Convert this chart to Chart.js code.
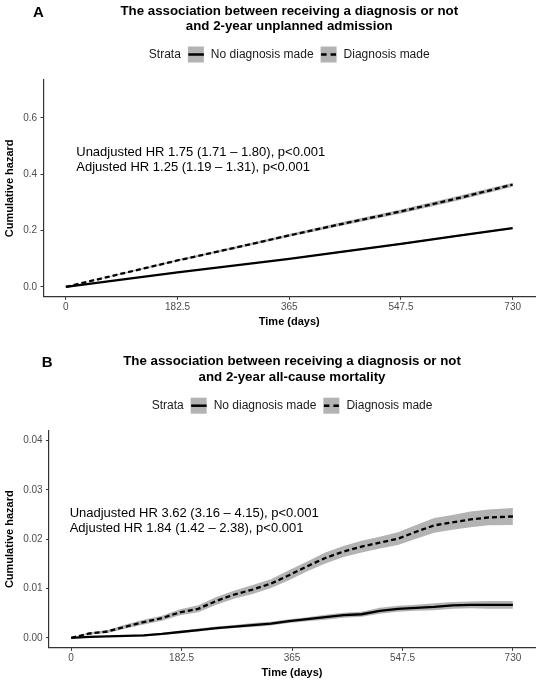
<!DOCTYPE html>
<html>
<head>
<meta charset="utf-8">
<script src="https://cdn.jsdelivr.net/npm/chart.js@4.4.0/dist/chart.umd.min.js"></script>
<style>
  body { margin: 0; background: #fff; }
  .panel { position: absolute; left: 0; width: 542px; }
  #panelA { top: 0; height: 350px; }
  #panelB { top: 350px; height: 330px; }
</style>
</head>
<body>
<div class="panel" id="panelA"><canvas id="chartA"></canvas></div>
<div class="panel" id="panelB"><canvas id="chartB"></canvas></div>
<script>
const FONT = "'Liberation Sans', Arial, Helvetica, sans-serif";
const BAND = "#b3b3b3";

const strata = ["No diagnosis made", "Diagnosis made"];
const xTicks = [0, 182.5, 365, 547.5, 730];

// Panel A: 2-year unplanned admission
const daysA = [0, 91, 182.5, 274, 365, 456, 547.5, 639, 730];
const noDxA = [0, 0.026, 0.052, 0.076, 0.100, 0.126, 0.153, 0.181, 0.209];
const noDxLowA = [0, 0.025, 0.050, 0.074, 0.098, 0.123, 0.150, 0.178, 0.206];
const noDxHighA = [0, 0.027, 0.054, 0.078, 0.102, 0.129, 0.156, 0.184, 0.212];
const dxA = [0, 0.047, 0.094, 0.138, 0.183, 0.226, 0.268, 0.314, 0.363];
const dxLowA = [0, 0.045, 0.091, 0.134, 0.178, 0.220, 0.261, 0.306, 0.356];
const dxHighA = [0, 0.049, 0.097, 0.142, 0.188, 0.232, 0.275, 0.322, 0.370];
const yTicksA = [0, 0.2, 0.4, 0.6];
const yLabelsA = ["0.0", "0.2", "0.4", "0.6"];
const titleA = ["The association between receiving a diagnosis or not", "and 2-year unplanned admission"];
const noteA = ["Unadjusted HR 1.75 (1.71 \u2013 1.80), p<0.001", "Adjusted HR 1.25 (1.19 \u2013 1.31), p<0.001"];

// Panel B: 2-year all-cause mortality
const daysB = [0, 30, 60, 90, 120, 150, 180, 210, 240, 270, 300, 330, 360, 390, 420, 450, 480, 510, 540, 570, 600, 630, 660, 690, 730];
const noDxB = [0, 0.0002, 0.0003, 0.0004, 0.0005, 0.0008, 0.0012, 0.0016, 0.0020, 0.0023, 0.0026, 0.0029, 0.0034, 0.0038, 0.0042, 0.0046, 0.0048, 0.0055, 0.0059, 0.0061, 0.0063, 0.0066, 0.0067, 0.0067, 0.0067];
const noDxLowB = [0, 0.0001, 0.0002, 0.0003, 0.0003, 0.0006, 0.0010, 0.0013, 0.0017, 0.0020, 0.0022, 0.0025, 0.0030, 0.0034, 0.0037, 0.0041, 0.0043, 0.0049, 0.0053, 0.0055, 0.0056, 0.0059, 0.0060, 0.0059, 0.0059];
const noDxHighB = [0, 0.0003, 0.0004, 0.0005, 0.0007, 0.0010, 0.0014, 0.0019, 0.0023, 0.0026, 0.0030, 0.0033, 0.0038, 0.0042, 0.0047, 0.0051, 0.0053, 0.0061, 0.0065, 0.0067, 0.0070, 0.0073, 0.0074, 0.0075, 0.0075];
const dxB = [0, 0.0009, 0.0013, 0.0023, 0.0032, 0.0040, 0.0052, 0.0059, 0.0075, 0.0088, 0.0098, 0.0110, 0.0127, 0.0145, 0.0162, 0.0175, 0.0185, 0.0193, 0.0201, 0.0215, 0.0228, 0.0234, 0.0240, 0.0244, 0.0246];
const dxLowB = [0, 0.0007, 0.0010, 0.0019, 0.0027, 0.0035, 0.0046, 0.0052, 0.0067, 0.0080, 0.0089, 0.0101, 0.0117, 0.0135, 0.0151, 0.0164, 0.0173, 0.0181, 0.0188, 0.0201, 0.0213, 0.0219, 0.0224, 0.0228, 0.0229];
const dxHighB = [0, 0.0011, 0.0016, 0.0027, 0.0037, 0.0045, 0.0058, 0.0066, 0.0083, 0.0096, 0.0107, 0.0119, 0.0137, 0.0155, 0.0173, 0.0186, 0.0197, 0.0205, 0.0214, 0.0229, 0.0243, 0.0249, 0.0256, 0.0260, 0.0263];
const yTicksB = [0, 0.01, 0.02, 0.03, 0.04];
const yLabelsB = ["0.00", "0.01", "0.02", "0.03", "0.04"];
const titleB = ["The association between receiving a diagnosis or not", "and 2-year all-cause mortality"];
const noteB = ["Unadjusted HR 3.62 (3.16 \u2013 4.15), p<0.001", "Adjusted HR 1.84 (1.42 \u2013 2.38), p<0.001"];

const lineDash = [[], [5, 3]];

function points(days, vals) {
  return days.map((d, i) => ({ x: d, y: vals[i] }));
}

// panel letter, HR annotation and the "Strata" legend row
const panelDecor = {
  id: "panelDecor",
  afterDraw(chart, args, opts) {
    const { ctx, chartArea, scales } = chart;
    ctx.save();
    ctx.fillStyle = "#000";
    ctx.textBaseline = "middle";
    ctx.textAlign = "left";

    ctx.font = "bold 15px " + FONT;
    ctx.fillText(opts.letter, opts.letterX, 13.3);

    ctx.font = "13px " + FONT;
    const nx = scales.x.getPixelForValue(opts.noteX);
    opts.note.forEach((line, i) => {
      ctx.fillText(line, nx, scales.y.getPixelForValue(opts.noteY[i]));
    });

    ctx.font = "12px " + FONT;
    ctx.fillStyle = "#1a1a1a";
    const box = 16, gap = 7;
    const head = ctx.measureText("Strata").width;
    const widths = strata.map(s => ctx.measureText(s).width);
    let total = head;
    widths.forEach(w => { total += gap + box + gap + w; });
    let x = (chartArea.left + chartArea.right) / 2 - total / 2;
    const y = opts.legendY;
    ctx.fillText("Strata", x, y);
    x += head + gap;
    strata.forEach((s, i) => {
      ctx.fillStyle = BAND;
      ctx.fillRect(x, y - box / 2, box, box);
      ctx.strokeStyle = "#000";
      ctx.lineWidth = 2.5;
      ctx.setLineDash(i === 1 ? [5.5, 4] : []);
      ctx.beginPath();
      ctx.moveTo(x + 0.5, y);
      ctx.lineTo(x + box, y);
      ctx.stroke();
      ctx.setLineDash([]);
      ctx.fillStyle = "#1a1a1a";
      ctx.fillText(s, x + box + gap, y);
      x += box + gap + widths[i] + gap;
    });
    ctx.restore();
  }
};

function makePanel(id, p) {
  const datasets = [
    { data: points(p.days, p.noDxLow), borderWidth: 0, pointRadius: 0, fill: false, order: 2 },
    { data: points(p.days, p.noDxHigh), borderWidth: 0, pointRadius: 0, fill: "-1", backgroundColor: BAND, order: 2 },
    { data: points(p.days, p.dxLow), borderWidth: 0, pointRadius: 0, fill: false, order: 2 },
    { data: points(p.days, p.dxHigh), borderWidth: 0, pointRadius: 0, fill: "-1", backgroundColor: BAND, order: 2 },
    { label: strata[0], data: points(p.days, p.noDx), borderColor: "#000", borderWidth: 2.3, borderDash: lineDash[0], pointRadius: 0, fill: false, order: 0 },
    { label: strata[1], data: points(p.days, p.dx), borderColor: "#000", borderWidth: 2.3, borderDash: lineDash[1], pointRadius: 0, fill: false, order: 0 }
  ];

  new Chart(id, {
    type: "line",
    data: { datasets: datasets },
    options: {
      responsive: true,
      maintainAspectRatio: false,
      animation: false,
      layout: { padding: { top: p.padTop, left: 2, right: 7, bottom: p.padBottom } },
      plugins: {
        legend: { display: false },
        tooltip: { enabled: false },
        title: {
          display: true,
          text: p.title,
          fullSize: false,
          color: "#000",
          font: { family: FONT, size: 13.3, weight: "bold", lineHeight: 1.18 },
          padding: { top: 0, bottom: 45.5 }
        },
        panelDecor: {
          letter: p.letter,
          letterX: p.letterX,
          legendY: p.legendY,
          note: p.note,
          noteX: p.noteX,
          noteY: p.noteY
        }
      },
      scales: {
        x: {
          type: "linear",
          min: -36.5,
          max: 766.5,
          afterBuildTicks: s => { s.ticks = xTicks.map(v => ({ value: v })); },
          ticks: {
            callback: v => String(v),
            color: "#4d4d4d",
            font: { family: FONT, size: 10 },
            padding: 1,
            maxRotation: 0,
            autoSkip: false
          },
          grid: { display: true, drawOnChartArea: false, drawTicks: true, tickLength: 3, tickColor: "#333" },
          border: { display: true, color: "#333", width: 1.2 },
          title: {
            display: true,
            text: "Time (days)",
            color: "#000",
            font: { family: FONT, size: 11, weight: "bold" },
            padding: { top: 1.5, bottom: 0.5 }
          }
        },
        y: {
          type: "linear",
          min: p.yMin,
          max: p.yMax,
          afterBuildTicks: s => { s.ticks = p.yTicks.map(v => ({ value: v })); },
          ticks: {
            callback: v => p.yLabels[p.yTicks.indexOf(v)],
            color: "#4d4d4d",
            font: { family: FONT, size: 10 },
            padding: 3.4,
            autoSkip: false
          },
          grid: { display: true, drawOnChartArea: false, drawTicks: true, tickLength: 3, tickColor: "#333" },
          border: { display: true, color: "#333", width: 1.2 },
          title: {
            display: true,
            text: "Cumulative hazard",
            color: "#000",
            font: { family: FONT, size: 11, weight: "bold" },
            padding: { top: 1.4, bottom: 3.2 }
          }
        }
      }
    },
    plugins: [panelDecor]
  });
}

makePanel("chartA", {
  days: daysA, noDx: noDxA, noDxLow: noDxLowA, noDxHigh: noDxHighA,
  dx: dxA, dxLow: dxLowA, dxHigh: dxHighA,
  yMin: -0.035, yMax: 0.735, yTicks: yTicksA, yLabels: yLabelsA,
  title: titleA, letter: "A", letterX: 33, legendY: 54.5,
  note: noteA, noteX: 17, noteY: [0.478, 0.423],
  padTop: 3, padBottom: 21
});

makePanel("chartB", {
  days: daysB, noDx: noDxB, noDxLow: noDxLowB, noDxHigh: noDxHighB,
  dx: dxB, dxLow: dxLowB, dxHigh: dxHighB,
  yMin: -0.002, yMax: 0.042, yTicks: yTicksB, yLabels: yLabelsB,
  title: titleB, letter: "B", letterX: 41.7, legendY: 55.7,
  note: noteB, noteX: -2.5, noteY: [0.0253, 0.0221],
  padTop: 3.7, padBottom: 0
});
</script>
</body>
</html>
